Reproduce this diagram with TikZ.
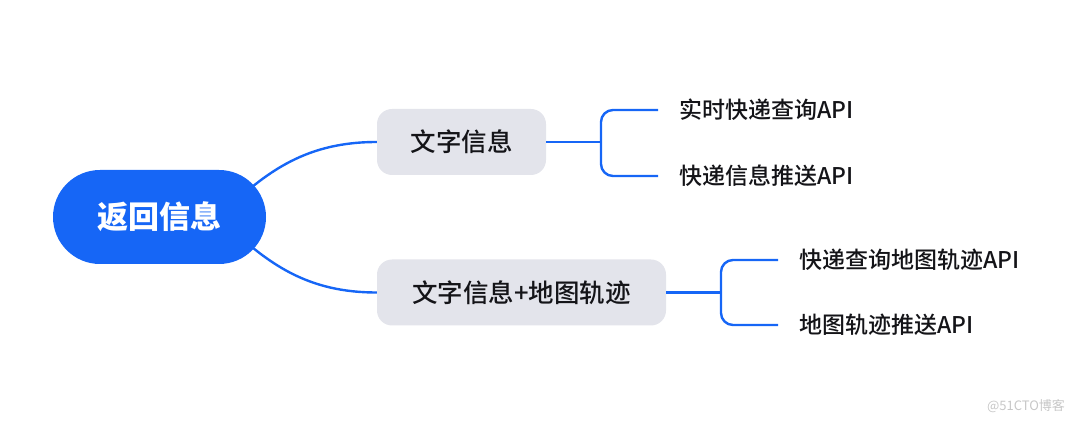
\documentclass[tikz,border=0pt]{standalone}
\usepackage{fontspec}
\usepackage{xcolor}
\usepackage{tikz}
\usetikzlibrary{positioning,backgrounds}
\newfontfamily\cjk{Noto Sans CJK SC}
\newfontfamily\cjkmed{Noto Sans CJK SC Medium}
\definecolor{mapblue}{RGB}{22,102,246}
\definecolor{boxgray}{RGB}{227,228,235}
\definecolor{inkdark}{RGB}{20,20,24}

\begin{document}
\begin{tikzpicture}[x=1pt,y=1pt,
  rootbox/.style={fill=mapblue,rounded corners=47pt,minimum width=213pt,
  minimum height=94pt,text=white,font=\cjk\bfseries\fontsize{31}{36}\selectfont},
  topic/.style={fill=boxgray,rounded corners=15pt,minimum height=66pt,
  text=inkdark,font=\cjkmed\fontsize{25.5}{30}\selectfont},
  leaf/.style={anchor=west,inner xsep=21pt,text=inkdark,
  font=\cjkmed\fontsize{23}{27}\selectfont},
  link/.style={mapblue,line width=2.4pt},
  fork/.style={link,rounded corners=12pt}]
\useasboundingbox (0,0) rectangle (1080,434);
\node[rootbox] (root) at (159.5,217) {返回信息};
\node[topic,minimum width=169pt] (txt) at (461.5,292) {文字信息};
\node[topic,minimum width=289pt] (txtmap) at (521.5,141.5) {文字信息+地图轨迹};
\coordinate (hub) at ([xshift=-47pt]root.east);
\coordinate (fk1) at (601,292);
\coordinate (fk2) at (721,141.5);
\node[leaf] (live) at (658,324) {实时快递查询API};
\node[leaf] (push) at (658,258) {快递信息推送API};
\node[leaf] (track) at (778,174) {快递查询地图轨迹API};
\node[leaf] (trackpush) at (778,109) {地图轨迹推送API};
\node[text=black!22,font=\cjk\fontsize{13}{15}\selectfont] (mark) at (1026,28) {@51CTO博客};
% curved links behind the root pill
\begin{scope}[on background layer]
\draw[link] (hub) to[out=45,in=180] (txt.west);
\draw[link] (hub) to[out=-45,in=180] (txtmap.west);
\end{scope}
% brackets to the leaves
\draw[link] (txt.east) -- (fk1);
\draw[fork] (live.west) -| (fk1) |- (push.west);
\draw[link] (txtmap.east) -- (fk2);
\draw[fork] (track.west) -| (fk2) |- (trackpush.west);
\end{tikzpicture}
\end{document}
